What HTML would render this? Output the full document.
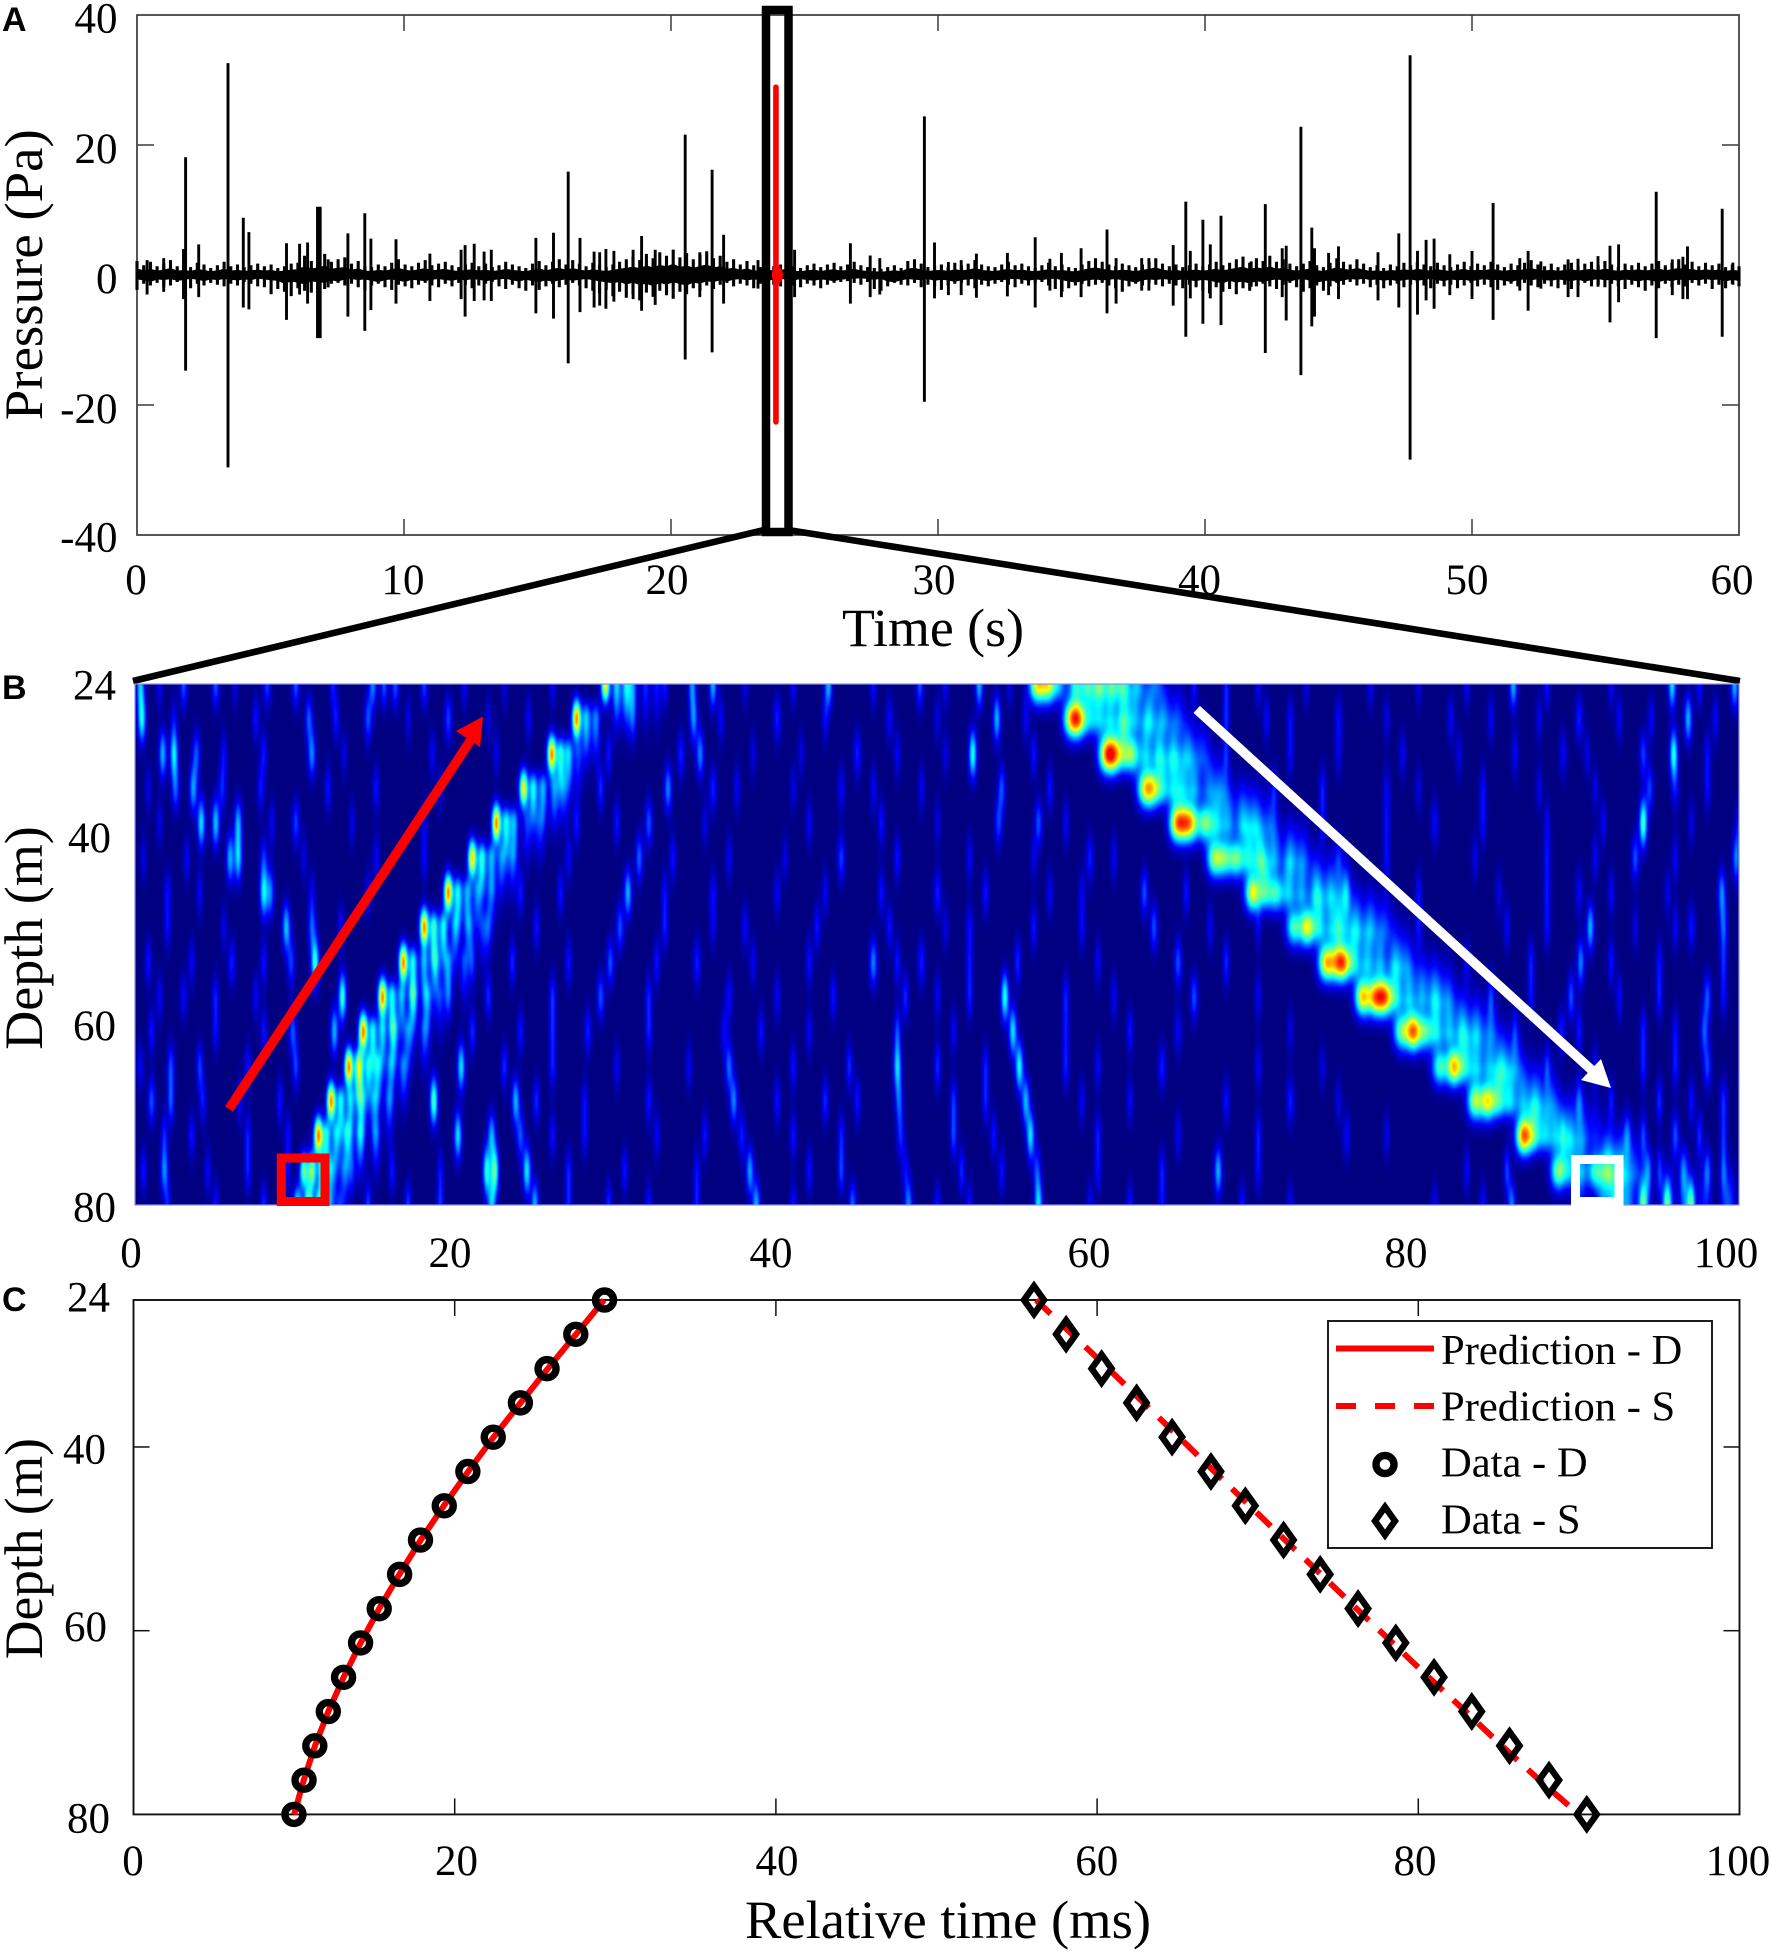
<!DOCTYPE html>
<html lang="en">
<head>
<meta charset="utf-8">
<title>Pressure, depth and relative time chart</title>
<style>
html,body{margin:0;padding:0;background:#fff;}
#stage{position:relative;width:1772px;height:1955px;overflow:hidden;background:#fff;}
#heat{position:absolute;left:135px;top:684px;width:1604px;height:521px;}
#chart{position:absolute;left:0;top:0;}
text{font-family:"Liberation Serif",serif;fill:#000;}
.panel{font-family:"Liberation Sans",sans-serif;font-weight:bold;font-size:34px;}
</style>
</head>
<body>
<div id="stage">
<canvas id="heat" width="1604" height="521"></canvas>
<svg id="chart" width="1772" height="1955" viewBox="0 0 1772 1955">
  <g id="layerA"></g>
  <g id="layerB"></g>
  <g id="layerC"></g>
  <text class="panel" x="2" y="31">A</text>
  <text class="panel" x="2" y="699">B</text>
  <text class="panel" x="2" y="1311">C</text>
</svg>
</div>
<script>
/* ---------- Panel A data ---------- */
const aTimeTicks = [0,10,20,30,40,50,60];
const aPressureTicks = [40,20,0,-20,-40];
/* background noise half-amplitude (Pa), one value per 0.25 s */
const bandAmplitude = [
1.6,1.1,1.5,1.0,1.3,1.7,1.0,1.2,0.9,1.4,1.2,0.8,1.1,1.5,1.0,1.2,0.9,1.1,1.3,1.0,1.2,0.8,1.0,1.3,
1.4,2.2,1.6,1.9,2.4,1.5,1.8,2.0,1.3,1.6,1.0,0.9,1.2,1.0,1.4,1.8,1.2,1.0,1.4,1.7,1.1,1.3,1.5,1.1,
0.9,1.2,1.4,1.0,1.3,0.9,1.1,1.5,1.2,1.0,0.8,1.3,1.6,1.1,1.5,1.8,1.2,1.7,1.3,1.0,1.4,1.1,0.9,1.2,
1.5,1.8,2.1,1.7,2.4,1.9,2.6,2.2,2.9,2.0,2.5,1.8,2.3,2.7,1.9,2.2,1.5,1.8,1.2,1.6,1.1,0.9,1.3,1.0,
1.2,1.5,1.0,0.8,1.1,1.3,0.9,1.2,1.4,1.0,1.2,1.5,1.1,0.9,0.8,0.7,0.9,1.1,0.8,1.6,1.8,1.3,0.9,1.1,
1.2,0.9,1.4,1.1,1.3,1.7,1.2,1.0,0.9,1.2,1.5,1.1,1.3,1.0,0.8,1.1,1.4,1.0,1.2,0.9,0.8,1.2,1.6,1.9,
1.5,1.2,1.0,1.3,1.1,0.9,1.2,1.5,1.9,1.3,1.0,1.2,0.9,1.1,1.3,1.0,1.2,1.5,1.1,1.4,1.8,2.1,1.4,1.9,
1.6,2.2,1.5,1.8,1.3,1.0,1.3,1.6,1.1,0.9,1.4,1.9,1.5,1.2,1.8,1.3,0.9,1.1,0.8,1.2,1.0,1.4,1.1,1.5,
1.2,1.0,1.4,1.1,0.9,1.2,1.5,1.0,1.3,1.1,1.5,1.2,0.9,1.3,1.1,1.4,1.7,1.2,1.0,1.3,0.9,1.2,1.4,1.0,
1.3,1.5,1.1,1.6,1.2,0.9,1.3,1.1,1.4,1.0,1.3,1.6,1.1,1.4,1.8,1.2,1.5,1.0,1.4,1.1,1.3,0.9,1.2,1.0];
/* discrete pressure events */
const spikeTimes = [0.38,1.0,1.74,1.82,2.31,3.41,3.98,4.19,5.6,6.09,6.39,6.76,6.86,7.16,7.9,8.53,8.76,9.7,10.97,12.14,12.29,12.63,13.0,13.27,14.94,15.6,16.15,16.59,17.12,17.33,17.56,17.86,18.58,18.9,19.41,20.53,21.08,21.54,21.97,23.26,24.63,26.72,27.46,27.82,
29.49,29.87,30.39,30.87,31.44,32.6,33.64,34.19,34.62,35.36,36.33,36.67,37.63,37.9,38.81,39.28,39.45,39.92,40.2,40.6,41.73,42.26,42.89,43.04,43.59,44.0,44.1,44.63,45.0,46.48,47.26,47.68,47.96,48.28,48.58,49.17,50.0,50.79,51.79,52.1,52.58,53.6,53.97,54.72,55.17,55.49,56.9,57.5,57.9,58.07,59.37,59.77];
const spikeHighs = [2.3,2.6,4.0,18.1,4.7,32.6,8.8,6.6,4.9,4.8,5.0,10.5,10.5,2.4,6.4,9.5,5.6,5.5,3.3,3.9,4.6,4.8,3.6,3.9,5.7,6.5,15.9,5.7,3.6,3.5,4.0,3.7,3.9,6.0,3.9,21.6,3.5,16.2,6.2,2.3,3.9,4.9,3.0,2.6,
24.4,5.0,2.0,2.3,3.3,3.4,5.8,2.5,3.4,4.1,7.0,2.6,2.6,2.6,4.6,11.3,3.7,8.5,4.7,9.1,2.1,10.9,4.1,4.5,22.8,7.3,4.1,3.4,4.4,3.5,6.4,33.8,3.7,5.4,5.6,3.2,3.7,11.1,2.6,3.7,2.1,2.4,2.5,2.9,4.5,4.7,12.8,2.4,2.8,4.4,10.2,1.9];
const spikeLows = [3.0,2.6,3.7,14.7,3.4,29.6,5.0,5.3,6.9,3.0,4.4,9.7,9.7,1.9,6.4,8.6,5.4,4.4,4.0,3.7,6.4,4.0,3.9,4.0,5.9,6.7,13.6,5.7,5.0,4.7,5.2,4.1,3.7,5.5,4.6,13.0,3.4,11.9,4.4,2.1,3.4,4.4,3.4,3.0,
19.5,3.6,3.1,3.1,3.5,3.3,5.0,2.4,3.4,3.4,5.9,4.4,2.4,2.4,4.7,9.5,3.6,7.5,3.6,7.7,1.8,12.0,3.4,7.0,15.4,7.9,6.4,3.1,3.7,3.9,5.0,28.4,6.1,3.9,5.2,3.1,3.7,6.9,2.4,5.5,2.1,3.4,3.4,1.8,7.3,4.2,9.7,3.1,3.7,3.7,9.5,1.5];
const selectedEventTime = [23.93];
const selectedEventHigh = [28.9];
const selectedEventLow = [-22.6];

/* ---------- Panel B data: jet heatmap, peaks per depth row as t,amp,t,amp,... ---------- */
const heatXTicks = [0,20,40,60,80,100];
const heatDepthTicks = [24,40,60,80];
const heatDepths = [24,27.7,31.5,35.2,38.9,42.7,46.4,50.1,53.9,57.6,61.3,65.1,68.8,72.5,76.3,80];
const directWavePeaks = [
[29.3,.85,30.0,.42,30.6,.45,31.0,.3,31.8,.2,32.5,.18],
[27.5,1,28.1,.42,28.7,.32],
[25.95,1,26.5,.5,27.0,.42,27.6,.22],
[24.2,.85,24.8,.48,25.4,.38,26.1,.32,26.7,.18],
[22.5,1,23.1,.48,23.6,.38,24.4,.2,25.2,.16],
[21.0,.9,21.6,.52,22.2,.38,22.8,.28,23.5,.18],
[19.5,1,20.1,.48,20.7,.38,21.3,.28,22.2,.16],
[18.0,1,18.6,.54,19.2,.48,19.9,.28,20.8,.22,21.7,.2],
[16.7,1,17.3,.48,18.0,.38,18.7,.33,19.5,.28,20.5,.22],
[15.4,1,16.0,.48,16.6,.38,17.3,.38,18.2,.32,19,.18],
[14.2,1,14.8,.48,15.4,.42,16.1,.38,17,.28,18,.22],
[13.3,1,13.9,.54,14.5,.42,15.1,.38,15.9,.28,16.7,.28],
[12.2,1,12.8,.48,13.4,.42,14.1,.38,14.9,.28,15.8,.22],
[11.4,1,11.9,.48,12.5,.38,13.2,.38,14,.32,15,.22],
[10.5,.62,11.0,.68,11.6,.48,12.2,.33,13,.22],
[10.1,.55,10.8,.72,11.4,.42,12,.28,12.7,.18]];
const shearWavePeaks = [
[56.2,.82,56.9,.78,57.6,.36,58.6,.5,59.3,.42,60.1,.46,60.9,.42,61.6,.38,62.5,.28,63.6,.22],
[58.3,.72,58.8,.85,59.5,.36,60.1,.4,60.8,.42,61.6,.42,62.3,.38,63.2,.36,64.1,.28,65,.18],
[60.5,.82,61,.85,61.6,.42,62.15,.62,63,.42,63.8,.38,64.7,.32,65.6,.28,66.5,.18],
[62.9,.66,63.4,.66,64,.42,64.7,.42,65.3,.38,66,.38,66.9,.28,67.7,.18],
[64.9,.82,65.4,.62,65.85,.66,66.7,.64,67.4,.42,68.1,.38,69,.38,69.8,.28,70.7,.18],
[67.25,.66,67.9,.56,68.65,.62,69.4,.46,70.1,.46,71,.38,72,.28,72.8,.18],
[69.65,.82,70.4,.52,71.1,.56,71.9,.42,72.7,.38,73.6,.38,74.5,.28,75.3,.18],
[72.2,.58,73.05,.82,73.8,.46,74.6,.42,75.3,.38,76.1,.32,77,.28,77.9,.18],
[74.2,.82,74.8,.56,75.3,.9,76,.46,76.8,.42,77.6,.38,78.5,.28,79.2,.18],
[76.5,.88,77.3,.88,77.9,.92,78.6,.46,79.4,.42,80.2,.38,81,.32,81.8,.18],
[78.9,.62,79.65,1,80.4,.56,81.1,.46,81.9,.42,82.7,.38,83.6,.28,84.5,.18],
[81.3,.58,82.2,.92,82.9,.46,83.6,.42,84.4,.38,85.2,.32,86,.22],
[83.5,.72,84.3,.82,85,.52,85.7,.46,86.5,.38,87.3,.28,88.2,.18],
[86.55,1.05,87.2,.52,87.9,.42,88.6,.42,89.4,.32,90.2,.22,91,.18],
[88.7,.68,89.4,.38,90.1,.33,91,.56,91.8,.52,92.6,.38,93.4,.22],
[90,.22,91.5,.32,92.2,.46,93,.38,94,.28,95.5,.28,96.7,.32,97.8,.18,99.3,.28]];
const weakArrivalPeaks = [
[.3,.3,3,.2,5,.2,8.2,.18,10,.2,14.8,.25,15.5,.2,16.2,.2,18,.18,34.7,.25,36,.3,43.2,.3,48.9,.2,52.6,.3,85.9,.3,95.8,.35,99.7,.3],
[.4,.38,10.8,.2,14.5,.2,19.5,.18,34.8,.25,40,.15,47,.12,53.7,.3,75,.12,90,.15,96.8,.3],
[1.7,.3,2.4,.35,3.8,.2,11,.25,34,.15,35.2,.25,45,.15,52.2,.4,89,.12,94,.18,95.9,.4],
[2.5,.2,3.6,.28,5.4,.15,33.2,.25,36,.15,44,.12,54,.2,78,.1,94.4,.18,96,.12],
[4.1,.35,5,.32,6.4,.28,10,.18,32,.2,53.8,.18,56.3,.2,81,.13,94,.45,100,.15],
[5.9,.3,6.4,.32,8,.15,31.4,.22,44,.18,59.5,.15,75,.12,93.5,.2,99.8,.25],
[8,.36,8.4,.25,2,.12,30.7,.3,36,.12,50,.15,62.9,.2,75.5,.15,90,.12,98.9,.25],
[9.4,.32,11,.2,30.2,.2,38,.12,52,.12,63.5,.2,75,.12,90.7,.3,97,.14,99,.2],
[6,.15,11.2,.42,9.7,.18,29.6,.2,35,.15,46,.25,49,.15,65,.2,90.1,.25],
[12.9,.42,3,.12,29,.2,37,.13,54.2,.4,66,.2,89.5,.2,98,.2],
[12.4,.3,9.8,.2,28.2,.15,36.7,.12,54.7,.35,65,.12,88.9,.15,97.8,.2],
[20.3,.35,2.2,.18,14,.2,37,.22,47.5,.32,55.1,.38,64,.15,98,.18],
[18.6,.45,1,.2,23.7,.3,37.3,.25,47.6,.2,55.5,.3,72,.15,90,.18,99,.15],
[20.1,.35,22.2,.28,24,.2,37.8,.15,47.7,.15,55.8,.35,75.5,.12,93,.2,96,.2],
[1.8,.25,21.9,.4,22.4,.45,24.4,.36,38.3,.28,48,.12,56.2,.18,67.5,.3,94.3,.22,96.5,.2,98,.2],
[22.2,.3,24.9,.3,38.7,.3,44.7,.22,48.2,.25,56.3,.35,64,.12,85.8,.25,94,.3,95.5,.3,97,.35]];
const faintStreakPeaks = [
[1.5,.12,6.2,.1,12.3,.14,20.5,.12,23,.1,26,.12,33,.14,38,.1,41,.12,46,.14,50.5,.12,54.5,.1,66,.14,68,.14,70,.12,73,.1,77,.12,80,.1,83,.12,88,.14,92,.12,97.5,.14],
[2.4,.1,7.5,.14,12.5,.14,17,.1,22,.1,24.5,.12,31,.12,36.5,.12,43,.12,50,.1,55.5,.12,68,.14,70.5,.12,72,.12,78,.1,82,.12,84.5,.12,87.5,.1,92.5,.12,94.5,.12,98.5,.12],
[5.5,.12,8,.14,13,.1,18.5,.12,22.5,.1,29.5,.14,38.5,.1,41.5,.1,47.5,.12,50.5,.1,56,.14,68,.12,72,.12,75,.1,79,.12,82.5,.1,86,.12,90.5,.1,98,.12],
[0.8,.1,7.8,.14,12,.14,15,.14,19,.1,29,.16,37.5,.12,41,.1,46,.12,49,.12,57,.14,71,.12,74,.14,80,.1,84,.12,87.5,.1,91,.1,98,.12],
[1.5,.1,8.5,.12,13.5,.1,18,.1,27.5,.14,30,.14,35.5,.1,42,.12,46.5,.14,50,.1,58,.12,74,.12,78,.12,84,.12,88,.1,91.5,.12,97,.1],
[0.5,.1,3.2,.12,10.5,.1,15,.12,18,.12,27,.12,33.5,.14,37,.12,40.5,.1,47.5,.14,52,.12,56,.1,61,.12,78,.12,83.5,.1,88,.12,91,.12,96,.12],
[4,.12,11,.1,14.5,.12,24,.14,26.5,.14,33,.12,40,.12,43,.12,46.5,.14,53,.14,57,.12,59,.1,65.5,.14,80,.12,85,.1,88,.12,92,.12,95.5,.1],
[2,.12,5.5,.1,12.8,.12,22,.14,25,.14,33,.14,36,.1,42.5,.14,47,.14,50.5,.1,56,.14,59,.12,67,.12,70,.1,80,.12,85.5,.12,88,.12,93.5,.1,96,.12],
[0.8,.14,3.5,.12,8,.14,21,.14,23.5,.16,27,.14,32.5,.14,38.5,.12,42,.14,47.5,.14,52,.12,55,.16,60,.12,68,.16,83,.12,87,.14,92,.14,95,.12,99,.14],
[1.5,.12,5,.14,7.5,.12,19.5,.14,22,.16,26,.16,32,.14,40,.12,43.5,.14,48,.16,50,.12,52,.14,58,.14,61,.12,70,.12,84.5,.14,87,.12,92.5,.12,95,.14,99,.12],
[1,.14,5,.12,8,.14,21,.16,24,.14,26,.14,32,.14,39,.14,42,.12,47.5,.18,51,.12,58,.12,62,.14,72,.1,86,.12,90,.14,94,.14,96,.12],
[0.3,.12,4,.18,7,.14,10,.18,23,.16,26,.14,30,.12,34.5,.12,41,.14,44.5,.16,50,.16,53,.14,58,.14,60,.12,70,.12,74,.1,88,.14,91,.12,94,.14,96,.14],
[2.2,.2,4.2,.14,6.5,.12,9,.14,25,.16,28,.12,32,.14,40,.14,43,.16,45,.14,51,.16,53,.14,59,.12,62,.12,68,.14,75,.1,92,.14,95,.16,97,.14],
[1.8,.14,3.5,.14,7,.14,9.5,.12,26,.14,28,.12,32.5,.12,35.5,.14,41,.14,44,.14,51,.18,53.5,.14,60,.14,65,.12,70,.14,78,.1,89,.14,94,.18,97.5,.16,99,.14],
[0.5,.14,4.5,.12,7,.14,9.5,.12,13.5,.14,16,.14,19,.12,27,.14,30.5,.14,35,.12,42,.14,44,.18,51.5,.16,54,.14,60,.12,64,.14,70,.12,83,.12,85.5,.18,95,.16,99,.18],
[2,.14,5,.14,8,.16,14.5,.18,17,.18,19,.16,27,.14,29.5,.16,32,.14,35,.14,41,.14,50,.14,52,.14,59.5,.12,62,.14,69,.14,72,.12,81,.12,84,.14,92.5,.2]];

/* ---------- Panel C data ---------- */
const fitTimeTicks = [0,20,40,60,80,100];
const fitDepthTicks = [24,40,60,80];
const fitDepths = [24,27.73,31.47,35.2,38.93,42.67,46.4,50.13,53.87,57.6,61.33,65.07,68.8,72.53,76.27,80];
const directData = [29.33,27.54,25.75,24.09,22.4,20.82,19.35,17.87,16.57,15.3,14.14,13.08,12.13,11.29,10.62,9.99];
const shearData = [56.07,58.07,60.28,62.46,64.67,67.09,69.23,71.61,73.89,76.25,78.6,80.98,83.33,85.68,88.14,90.49];
const directPrediction = [29.3,27.55,25.8,24.1,22.42,20.84,19.32,17.88,16.55,15.3,14.14,13.08,12.13,11.3,10.6,10.0];
const shearPrediction = [56.2,58.45,60.7,62.9,65.1,67.3,69.5,71.7,73.95,76.15,78.4,80.65,82.95,85.2,87.55,90.0];
const legendLabels = ['Prediction - D','Prediction - S','Data - D','Data - S'];

/* ---------- helpers ---------- */
const SVGNS = 'http://www.w3.org/2000/svg';
function mk(tag, attrs, parent, txt){
  const n = document.createElementNS(SVGNS, tag);
  for (const k in attrs) n.setAttribute(k, attrs[k]);
  if (txt !== undefined) n.textContent = txt;
  parent.appendChild(n);
  return n;
}
const layerA = document.getElementById('layerA');
const layerB = document.getElementById('layerB');
const layerC = document.getElementById('layerC');
const xA = t => 137 + t * 26.7;
const yA = p => 275 - p * 6.5;
const xB = t => 135 + t * 16.04;
const yB = d => 684 + (d - 24) * 9.304;
const xC = t => 133.5 + t * 16.06;
const yC = d => 1300 + (d - 24) * 9.186;

/* ---------- Panel A ---------- */
(function(){
  const frame = mk('rect',{x:xA(0),y:yA(40),width:xA(60)-xA(0),height:yA(-40)-yA(40),fill:'none',stroke:'#3a3a3a','stroke-width':1.7},layerA);
  
  
  aTimeTicks.forEach(function(t){
    if (t===0||t===60) return;
    const top = mk('line',{x1:xA(t),x2:xA(t),y1:yA(40),y2:yA(40)+16,stroke:'#3a3a3a','stroke-width':1.5},layerA);
    
    
    const bot = mk('line',{x1:xA(t),x2:xA(t),y1:yA(-40),y2:yA(-40)-16,stroke:'#3a3a3a','stroke-width':1.5},layerA);
    
    
  });
  aPressureTicks.forEach(function(p){
    if (p===40||p===-40) return;
    const l = mk('line',{x1:xA(0),x2:xA(0)+17,y1:yA(p),y2:yA(p),stroke:'#3a3a3a','stroke-width':1.5},layerA);
    
    
    const r = mk('line',{x1:xA(60),x2:xA(60)-17,y1:yA(p),y2:yA(p),stroke:'#3a3a3a','stroke-width':1.5},layerA);
    
    
  });
  const n = bandAmplitude.length;
  const tAt = i => (i/(n-1))*60;
  let band = '';
  for (let i=0;i<n;i++) band += (i===0?'M':'L')+xA(tAt(i)).toFixed(1)+' '+yA(bandAmplitude[i]*0.55).toFixed(1);
  for (let i=n-1;i>=0;i--) band += 'L'+xA(tAt(i)).toFixed(1)+' '+yA(-bandAmplitude[(i+3)%n]*0.55).toFixed(1);
  band += 'Z';
  const bandPath = mk('path',{d:band,fill:'#000',stroke:'#000','stroke-width':1.6,'stroke-linejoin':'round'},layerA);
  
  
  let comb = '';
  for (let i=0;i<n;i++){
    const x = xA(tAt(i)).toFixed(1);
    comb += 'M'+x+' '+yA(bandAmplitude[i]*1.35).toFixed(1)+'L'+x+' '+yA(-bandAmplitude[(i+5)%n]*1.35).toFixed(1);
  }
  const combPath = mk('path',{d:comb,fill:'none',stroke:'#000','stroke-width':3.1},layerA);
  
  
  let sp = '';
  spikeTimes.forEach(function(t,i){
    sp += 'M'+xA(t).toFixed(1)+' '+yA(spikeHighs[i]).toFixed(1)+'L'+xA(t).toFixed(1)+' '+yA(-spikeLows[i]).toFixed(1);
  });
  const spikes = mk('path',{d:sp,fill:'none',stroke:'#000','stroke-width':2.9},layerA);
  
  
  const ev = mk('line',{x1:xA(selectedEventTime[0]),x2:xA(selectedEventTime[0]),y1:yA(selectedEventHigh[0]),y2:yA(selectedEventLow[0]),stroke:'#f00','stroke-width':5.6,'stroke-linecap':'round'},layerA);
  
  
  const sel = mk('rect',{x:766,y:10,width:22.5,height:522,fill:'none',stroke:'#000','stroke-width':8.5},layerA);
  
  
  const blob = mk('ellipse',{cx:xA(selectedEventTime[0])+1.5,cy:yA(0),rx:5.5,ry:9,fill:'#f00'},layerA);
  
  
  const c1 = mk('line',{x1:764,y1:530,x2:133,y2:681,stroke:'#000','stroke-width':6.6},layerA);
  
  
  const c2 = mk('line',{x1:788,y1:530,x2:1740,y2:681,stroke:'#000','stroke-width':6.6},layerA);
  
  
  const yLabelBase = {40:32.5,20:163,0:293,'-20':423,'-40':551.6};
  aPressureTicks.forEach(function(p){
    const e = mk('text',{x:117.5,y:yLabelBase[p],'font-size':43,'text-anchor':'end'},layerA,String(p));
    
    
  });
  const xLabelPos = [136,403,667,934,1199.5,1467,1732];
  aTimeTicks.forEach(function(t,i){
    const e = mk('text',{x:xLabelPos[i],y:594,'font-size':43,'text-anchor':'middle'},layerA,String(t));
    
    
  });
  const xt = mk('text',{x:933,y:646,'font-size':54,'text-anchor':'middle',textLength:182,lengthAdjust:'spacingAndGlyphs'},layerA,'Time (s)');
  
  
  const yt = mk('text',{transform:'translate(42 274.7) rotate(-90)','font-size':54,'text-anchor':'middle',textLength:291,lengthAdjust:'spacingAndGlyphs'},layerA,'Pressure (Pa)');
  
  
})();

/* ---------- Panel B heatmap ---------- */
(function(){
  const cv = document.getElementById('heat');
  const W = cv.width, H = cv.height;
  const ctx = cv.getContext('2d');
  const MAIN_MIN = 0.55;
  function addPeaks(prof, list, sig, keep, gain){
    const s2 = 2*sig*sig, reach = sig*16.04*4;
    for (let i=0;i<list.length;i+=2){
      const cx = list[i]*16.04, a = list[i+1];
      if (!keep(a)) continue;
      const lo = Math.max(0,Math.floor(cx-reach)), hi = Math.min(W-1,Math.ceil(cx+reach));
      for (let x=lo;x<=hi;x++){
        const dt = (x-cx)/16.04;
        prof[x] += gain*a*Math.exp(-dt*dt/s2);
      }
    }
  }
  const isMain = a => a >= MAIN_MIN;
  const isTail = a => a < MAIN_MIN;
  const all = () => true;
  const mainP = [], tailD = [], tailS = [], noiseP = [];
  heatDepths.forEach(function(d,r){
    const m = new Float32Array(W), td = new Float32Array(W), ts = new Float32Array(W), nz = new Float32Array(W);
    addPeaks(m, directWavePeaks[r], .19, isMain, .74);
    addPeaks(m, shearWavePeaks[r], .34, isMain, .72);
    addPeaks(td, directWavePeaks[r], .2, isTail, .8);
    addPeaks(ts, shearWavePeaks[r], .31, isTail, .72);
    addPeaks(nz, weakArrivalPeaks[r], .17, all, 1);
    addPeaks(nz, faintStreakPeaks[r], .15, all, 1);
    mainP.push(m); tailD.push(td); tailS.push(ts); noiseP.push(nz);
  });
  function gauss(dd,s){ return Math.exp(-dd*dd/(2*s*s)); }
  const img = ctx.createImageData(W,H), px = img.data;
  const line = new Float32Array(W);
  function jet(c){ return Math.max(0,Math.min(1,c)); }
  function accumulate(p,w){ if (w<0.01) return; for (let x=0;x<W;x++) line[x]+=p[x]*w; }
  for (let y=0;y<H;y++){
    const d = 24 + y/9.304;
    line.fill(0);
    heatDepths.forEach(function(dr,r){
      const dd = d-dr;
      accumulate(mainP[r], gauss(dd,1.4));
      accumulate(tailD[r], gauss(dd, dd<0 ? 1.2 : 2.9));
      accumulate(tailS[r], gauss(dd, dd<0 ? 2.8 : 1.25));
      accumulate(noiseP[r], gauss(dd,1.8));
    });
    for (let x=0;x<W;x++){
      const v = Math.min(0.88,line[x]);
      const o = (y*W+x)*4;
      px[o]   = 255*jet(1.5-Math.abs(4*v-3));
      px[o+1] = 255*jet(1.5-Math.abs(4*v-2));
      px[o+2] = 255*jet(1.5-Math.abs(4*v-1));
      px[o+3] = 255;
    }
  }
  ctx.putImageData(img,0,0);

  const edge = mk('rect',{x:135,y:684,width:1604,height:521,fill:'none',stroke:'#8f8fe0','stroke-width':1.2},layerB);
  
  
  const yBase = [699.5,852,1040,1221.5], yRight = [116,111,116,116];
  heatDepthTicks.forEach(function(v,i){
    const e = mk('text',{x:yRight[i],y:yBase[i],'font-size':43,'text-anchor':'end'},layerB,String(v));
    
    
  });
  const xPos = [131,450,771,1089,1406,1726];
  heatXTicks.forEach(function(v,i){
    const e = mk('text',{x:xPos[i],y:1267,'font-size':43,'text-anchor':'middle'},layerB,String(v));
    
    
  });
  const yt = mk('text',{transform:'translate(42 938) rotate(-90)','font-size':54,'text-anchor':'middle',textLength:223.5,lengthAdjust:'spacingAndGlyphs'},layerB,'Depth (m)');
  
  
  const redLine = mk('line',{x1:229,y1:1109,x2:474,y2:735,stroke:'#f00','stroke-width':9.5},layerB);
  
  
  const redHead = mk('polygon',{points:'483,716.5 456,731 480,747',fill:'#f00'},layerB);
  
  
  const whiteLine = mk('line',{x1:1196.7,y1:709.4,x2:1596,y2:1074,stroke:'#fff','stroke-width':9.5},layerB);
  
  
  const whiteHead = mk('polygon',{points:'1611,1088 1601,1059 1581,1080',fill:'#fff'},layerB);
  
  
  const redBox = mk('rect',{x:281.3,y:1158,width:43.7,height:43.5,fill:'none',stroke:'#f00','stroke-width':9},layerB);
  
  
  const whiteBox = mk('rect',{x:1575.5,y:1159.5,width:43.5,height:42,fill:'none',stroke:'#fff','stroke-width':9},layerB);
  
  
})();

/* ---------- Panel C ---------- */
(function(){
  const frame = mk('rect',{x:xC(0),y:yC(24),width:xC(100)-xC(0),height:yC(80)-yC(24),fill:'none',stroke:'#111','stroke-width':1.9},layerC);
  
  
  fitTimeTicks.forEach(function(t){
    if (t===0||t===100) return;
    const a = mk('line',{x1:xC(t),x2:xC(t),y1:yC(24),y2:yC(24)+16,stroke:'#111','stroke-width':1.5},layerC);
    
    
    const b = mk('line',{x1:xC(t),x2:xC(t),y1:yC(80),y2:yC(80)-16,stroke:'#111','stroke-width':1.5},layerC);
    
    
  });
  fitDepthTicks.forEach(function(d){
    if (d===24||d===80) return;
    const a = mk('line',{x1:xC(0),x2:xC(0)+16,y1:yC(d),y2:yC(d),stroke:'#111','stroke-width':1.5},layerC);
    
    
    const b = mk('line',{x1:xC(100),x2:xC(100)-16,y1:yC(d),y2:yC(d),stroke:'#111','stroke-width':1.5},layerC);
    
    
  });
  const pts = function(vals){ return vals.map(function(t,i){ return xC(t).toFixed(1)+','+yC(fitDepths[i]).toFixed(1); }).join(' '); };
  const pd = mk('polyline',{points:pts(directPrediction),fill:'none',stroke:'#f00','stroke-width':6},layerC);
  
  
  const ps = mk('polyline',{points:pts(shearPrediction),fill:'none',stroke:'#f00','stroke-width':6,'stroke-dasharray':'20 14'},layerC);
  
  
  function diamond(cx,cy){
    return cx+','+(cy-14)+' '+(cx+10)+','+cy+' '+cx+','+(cy+14)+' '+(cx-10)+','+cy;
  }
  directData.forEach(function(t,i){
    const m = mk('circle',{cx:xC(t),cy:yC(fitDepths[i]),r:9,fill:'none',stroke:'#000','stroke-width':7.4},layerC);
    
    
  });
  shearData.forEach(function(t,i){
    const m = mk('polygon',{points:diamond(xC(t),yC(fitDepths[i])),fill:'none',stroke:'#000','stroke-width':6.4},layerC);
    
    
  });
  const yBase = [1311.5,1463.5,1641,1832.7], yRight = [110,106,107,110];
  fitDepthTicks.forEach(function(v,i){
    const e = mk('text',{x:yRight[i],y:yBase[i],'font-size':43,'text-anchor':'end'},layerC,String(v));
    
    
  });
  const xPos = [133,456.5,777,1096.7,1415,1738];
  fitTimeTicks.forEach(function(v,i){
    const e = mk('text',{x:xPos[i],y:1875,'font-size':43,'text-anchor':'middle'},layerC,String(v));
    
    
  });
  const xt = mk('text',{x:948,y:1938,'font-size':54,'text-anchor':'middle',textLength:406,lengthAdjust:'spacingAndGlyphs'},layerC,'Relative time (ms)');
  
  
  const yt = mk('text',{transform:'translate(42 1548.6) rotate(-90)','font-size':54,'text-anchor':'middle',textLength:221,lengthAdjust:'spacingAndGlyphs'},layerC,'Depth (m)');
  
  
  /* legend */
  const lg = mk('g',{},layerC);
  
  
  const box = mk('rect',{x:1328,y:1321,width:384,height:227,fill:'#fff',stroke:'#111','stroke-width':1.9},lg);
  
  
  const baselines = [1364,1420.7,1476.6,1533.4];
  legendLabels.forEach(function(s,i){
    const e = mk('text',{x:1441,y:baselines[i],'font-size':42.6},lg,s);
    
    
  });
  const l1 = mk('line',{x1:1336,x2:1434,y1:1348.5,y2:1348.5,stroke:'#f00','stroke-width':6},lg);
  
  
  const l2 = mk('line',{x1:1336,x2:1434,y1:1406,y2:1406,stroke:'#f00','stroke-width':6,'stroke-dasharray':'20 19'},lg);
  
  
  const l3 = mk('circle',{cx:1385,cy:1464.5,r:9,fill:'none',stroke:'#000','stroke-width':7.4},lg);
  
  
  const l4 = mk('polygon',{points:diamond(1385,1521),fill:'none',stroke:'#000','stroke-width':6.4},lg);
  
  
})();
</script>
</body>
</html>
